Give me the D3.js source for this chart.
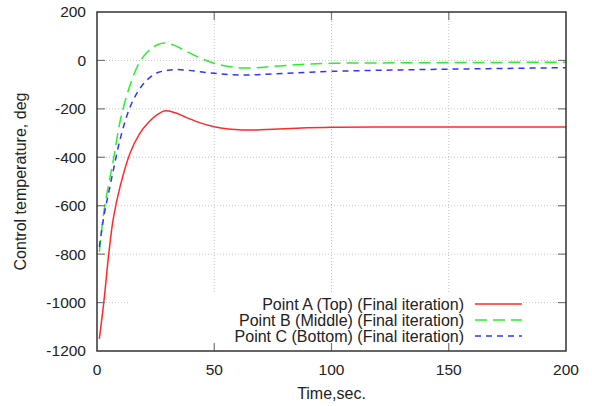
<!DOCTYPE html>
<html>
<head>
<meta charset="utf-8">
<script src="https://cdn.jsdelivr.net/npm/d3@7"></script>
<style>
  body { margin: 0; background: #fff; }
  svg text { font-family: "Liberation Sans", Arial, sans-serif; fill: #222; }
</style>
</head>
<body>
<svg width="592" height="406"></svg>
<script>
// data
const time = [1, 3, 5, 7, 10, 14, 18, 22, 26, 29, 33, 38, 44, 50, 56, 62, 68, 75, 85, 100, 125, 150, 175, 200];
const pointA = [-1150, -990, -800, -650, -515, -385, -305, -255, -222, -208, -215, -235, -258, -274, -283, -287, -287, -284, -280, -276, -275, -275, -275, -275];
const pointB = [-790, -620, -510, -410, -245, -105, -10, 40, 66, 72, 62, 38, 10, -12, -25, -31, -30, -25, -18, -12, -10, -9, -8, -7];
const pointC = [-770, -640, -545, -452, -320, -195, -120, -75, -50, -43, -38, -40, -47, -53, -58, -60, -59, -56, -51, -45, -40, -36, -33, -30];
const seriesNames = ['Point A (Top) (Final iteration)', 'Point B (Middle) (Final iteration)', 'Point C (Bottom) (Final iteration)'];
const colors = ['#ff2a2a', '#2aef2a', '#3434ff'];
const dashes = [null, '12,6', '6,5'];
const xTicks = [0, 50, 100, 150, 200];
const yTicks = [200, 0, -200, -400, -600, -800, -1000, -1200];

const svg = d3.select('svg');
const pLeft = 97, pRight = 566, pTop = 12, pBottom = 351;
const fs = 15.5;

const x = d3.scaleLinear().domain([0, 200]).range([pLeft, pRight]);
const y = d3.scaleLinear().domain([-1200, 200]).range([pBottom, pTop]);

// grid
const grid = svg.append('g').attr('stroke', '#c4c4c4').attr('stroke-dasharray', '1,2').attr('stroke-width', 1);
grid.selectAll('.vg').data(xTicks.slice(1, -1)).join('line')
    .attr('x1', d => x(d)).attr('x2', d => x(d)).attr('y1', pTop).attr('y2', pBottom);
grid.selectAll('.hg').data(yTicks.slice(1, -1)).join('line')
    .attr('x1', pLeft).attr('x2', pRight).attr('y1', d => y(d)).attr('y2', d => y(d));

// curves
const series = [pointA, pointB, pointC];
const line = d3.line()
    .x((d, i) => x(time[i]))
    .y(d => y(d))
    .curve(d3.curveCatmullRom);

svg.append('g').selectAll('path').data(series).join('path')
    .attr('d', d => line(d))
    .attr('fill', 'none')
    .attr('stroke', (d, i) => colors[i])
    .attr('stroke-width', 1.5)
    .attr('stroke-dasharray', (d, i) => dashes[i]);

// legend (opaque box hides grid)
svg.append('rect').attr('x', 128).attr('y', 293).attr('width', 393).attr('height', 50).attr('fill', '#fff');
const legend = svg.append('g');
seriesNames.forEach((name, i) => {
    const ly = 304 + i * 16;
    legend.append('text').attr('x', 464).attr('y', ly).attr('dy', '0.35em')
        .attr('text-anchor', 'end').attr('font-size', 16).text(name);
    legend.append('line').attr('x1', 475).attr('x2', 522).attr('y1', ly).attr('y2', ly)
        .attr('stroke', colors[i]).attr('stroke-width', 1.5)
        .attr('stroke-dasharray', dashes[i]);
});

// ticks (inward, mirrored)
const ticks = svg.append('g').attr('stroke', '#777').attr('stroke-width', 1.2);
xTicks.slice(1, -1).forEach(t => {
    ticks.append('line').attr('x1', x(t)).attr('x2', x(t)).attr('y1', pBottom).attr('y2', pBottom - 8);
    ticks.append('line').attr('x1', x(t)).attr('x2', x(t)).attr('y1', pTop).attr('y2', pTop + 8);
});
yTicks.slice(1, -1).forEach(t => {
    ticks.append('line').attr('x1', pLeft).attr('x2', pLeft + 8).attr('y1', y(t)).attr('y2', y(t));
    ticks.append('line').attr('x1', pRight).attr('x2', pRight - 8).attr('y1', y(t)).attr('y2', y(t));
});

// border
svg.append('rect').attr('x', pLeft).attr('y', pTop).attr('width', pRight - pLeft).attr('height', pBottom - pTop)
    .attr('fill', 'none').attr('stroke', '#333').attr('stroke-width', 1.5);

// tick labels
svg.append('g').selectAll('text').data(xTicks).join('text')
    .attr('x', d => x(d)).attr('y', pBottom + 19).attr('dy', '0.35em')
    .attr('text-anchor', 'middle').attr('font-size', fs).text(d => d);
svg.append('g').selectAll('text').data(yTicks).join('text')
    .attr('x', pLeft - 11).attr('y', d => y(d)).attr('dy', '0.35em')
    .attr('text-anchor', 'end').attr('font-size', fs).text(d => d);

// axis titles
svg.append('text').attr('x', (pLeft + pRight) / 2).attr('y', 393).attr('dy', '0.35em')
    .attr('text-anchor', 'middle').attr('font-size', 16).text('Time,sec.');
svg.append('text').attr('transform', `translate(20,${(pTop + pBottom) / 2}) rotate(-90)`).attr('dy', '0.35em')
    .attr('text-anchor', 'middle').attr('font-size', 16).text('Control temperature, deg');
</script>
</body>
</html>
